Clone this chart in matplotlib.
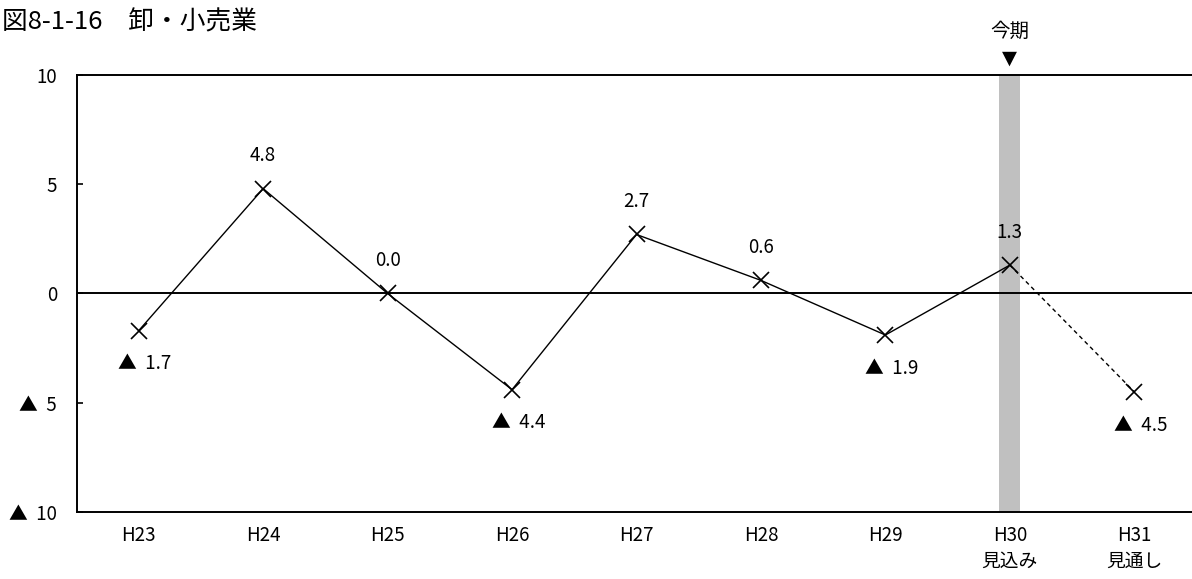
import matplotlib
matplotlib.use("Agg")
from matplotlib import pyplot as plt

plt.rcParams['font.family'] = ['Noto Sans CJK JP', 'DejaVu Sans']

# data
categories = ["H23", "H24", "H25", "H26", "H27", "H28", "H29", "H30\n見込み", "H31\n見通し"]
values = [-1.7, 4.8, 0.0, -4.4, 2.7, 0.6, -1.9, 1.3, -4.5]
current_idx = 7  # 今期 (H30)
y_ticks = [10, 5, 0, -5, -10]
y_tick_labels = ["10", "5", "0", "▲  5", "▲  10"]


def fmt_value(v: float) -> str:
    if v < 0:
        return "▲  {0:.1f}".format(abs(v))
    return "{0:.1f}".format(v)


fig = plt.figure(figsize=(11.92, 5.79), dpi=100)
# plot area runs a little past the right edge of the picture
ax = fig.add_axes([76.5 / 1192, 0.1157, 1120 / 1192, 0.7548])

x = list(range(len(categories)))

# highlight bar for the current period
ax.axvspan(current_idx - 0.085, current_idx + 0.085, color="#c0c0c0", linewidth=0, zorder=1)

ax.axhline(0, color="black", linewidth=1.4, zorder=2)

# solid line up to current period, dashed to the forecast
ax.plot(x[:current_idx + 1], values[:current_idx + 1], color="black", linewidth=1.0,
        marker="x", markersize=12, markeredgewidth=1.2, zorder=3)
ax.plot(x[current_idx:], values[current_idx:], color="black", linewidth=1.0,
        linestyle=(0, (3, 2.5)), zorder=3)
ax.plot(x[-1], values[-1], color="black", marker="x", markersize=12,
        markeredgewidth=1.2, zorder=3)

for xi, v in zip(x, values):
    if v >= 0:
        ax.annotate(fmt_value(v), (xi, v), xytext=(0, 23.5), textcoords="offset points",
                    ha="center", va="center", fontsize=13.5)
    else:
        ax.annotate(fmt_value(v), (xi, v), xytext=(4.5, -24), textcoords="offset points",
                    ha="center", va="center", fontsize=13.5)

ax.set_xlim(-0.5, len(categories) - 0.5)
ax.set_ylim(-10, 10)
ax.set_xticks(x)
ax.set_xticklabels(categories, fontsize=13.5, linespacing=1.3)
ax.set_yticks(y_ticks)
ax.set_yticklabels(y_tick_labels, fontsize=13.5)
ax.tick_params(axis="x", length=0, pad=9)
ax.tick_params(axis="y", direction="in", length=4, width=1.2, pad=14)

for side in ["left", "top", "bottom"]:
    ax.spines[side].set_linewidth(1.4)
ax.spines["right"].set_visible(False)

fig.text(0.002, 0.962, "図8-1-16　卸・小売業", fontsize=18.5, ha="left", va="center")
ax.annotate("今期", (current_idx, 10), xytext=(0, 31.5), textcoords="offset points",
            ha="center", va="center", fontsize=14, annotation_clip=False)
ax.annotate("▼", (current_idx, 10), xytext=(0, 12), textcoords="offset points",
            ha="center", va="center", fontsize=14, annotation_clip=False,
            family=['DejaVu Sans'])

fig.savefig("out.png", dpi=100)
